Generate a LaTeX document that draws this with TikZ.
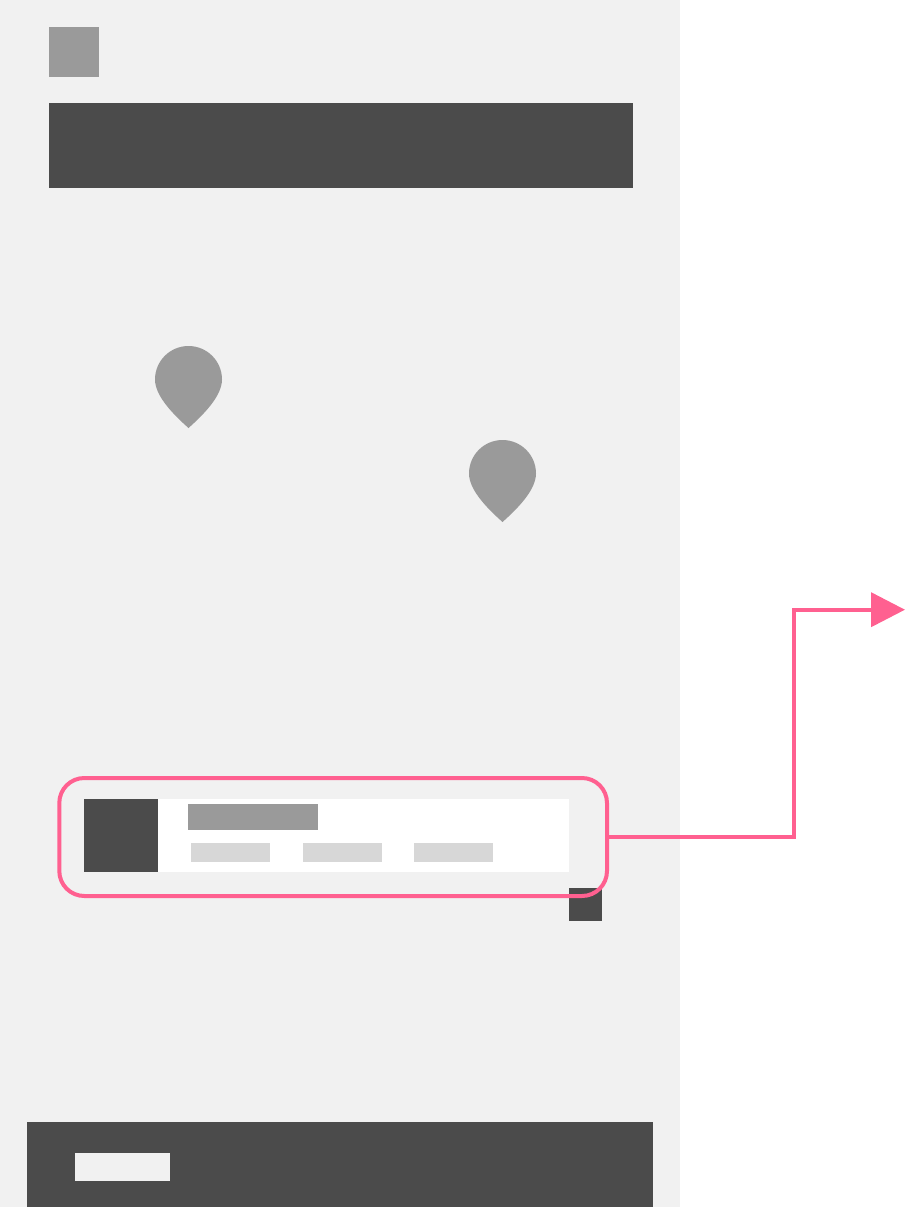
\documentclass[tikz,border=0pt]{standalone}
\usetikzlibrary{arrows.meta}
\definecolor{panelgray}{HTML}{F1F1F1}
\definecolor{darkgray}{HTML}{4B4B4B}
\definecolor{midgray}{HTML}{9A9A9A}
\definecolor{lightgray}{HTML}{D7D7D7}
\definecolor{accentpink}{HTML}{FF6090}
\tikzset{
  block/.style={draw=none,inner sep=0pt,outer sep=0pt,rectangle},
  highlight/.style={block,draw=accentpink,line width=4pt,rounded corners=25pt},
  connector/.style={draw=accentpink,line width=4pt,line join=miter,-{Triangle[length=34pt,width=34pt]}},
  pinshape/.style={fill=midgray,draw=none}
}
\newcommand{\boxnode}[6]{\node[block,#6,minimum width={(#4-#2)*1pt},minimum height={(#5-#3)*1pt}] (#1) at ({(#2+#4)/2},{(#3+#5)/2}) {};}
\newcommand{\mappin}[2]{\fill[pinshape] (#1-33.5,#2) .. controls (#1-33.5,#2-18.5) and (#1-18.5,#2-33.5) .. (#1,#2-33.5) .. controls (#1+18.5,#2-33.5) and (#1+33.5,#2-18.5) .. (#1+33.5,#2) .. controls (#1+33.5,#2+17) and (#1+14,#2+36) .. (#1,#2+48.5) .. controls (#1-14,#2+36) and (#1-33.5,#2+17) .. (#1-33.5,#2) -- cycle;}
\begin{document}
\begin{tikzpicture}[x=1pt,y=-1pt]
\useasboundingbox (0,0) rectangle (905,1207);
\boxnode{panel}{0}{0}{680}{1207}{fill=panelgray}
\boxnode{logo}{49}{27}{99}{77}{fill=midgray}
\boxnode{header}{49}{103.3}{633}{188}{fill=darkgray}
\mappin{188.5}{379.5}
\mappin{502.5}{473.5}
\boxnode{card}{84}{799}{568.7}{872.3}{fill=white}
\boxnode{thumb}{84}{799}{158.2}{872.3}{fill=darkgray}
\boxnode{title}{188}{804}{318}{830}{fill=midgray}
\boxnode{tagA}{191}{843}{270}{862}{fill=lightgray}
\boxnode{tagB}{303}{843}{382}{862}{fill=lightgray}
\boxnode{tagC}{414}{843}{493}{862}{fill=lightgray}
\boxnode{locate}{569.4}{888}{602.4}{921}{fill=darkgray}
\boxnode{footer}{26.6}{1122}{653.4}{1207}{fill=darkgray}
\boxnode{button}{74.6}{1153}{170.4}{1181}{fill=panelgray}
\boxnode{frame}{59.3}{778}{607}{896}{highlight}
\coordinate (bendA) at (793.5,837);
\coordinate (bendB) at (793.5,609.7);
\coordinate (tip) at (905,609.7);
\draw[connector] (frame.east) -- (bendA) -- (bendB) -- (tip);
\end{tikzpicture}
\end{document}
